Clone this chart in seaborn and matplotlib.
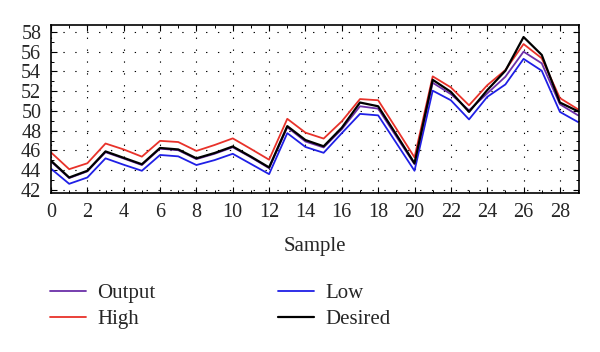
import numpy as np
import pandas as pd
import matplotlib
matplotlib.use("Agg")
import matplotlib.pyplot as plt
from matplotlib.ticker import MultipleLocator
import seaborn as sns

# -- data
sample = list(range(30))
desired = [44.96, 43.26, 43.94, 45.9, 45.25, 44.6, 46.25, 46.1, 45.2, 45.74,
           46.4, 45.37, 44.28, 48.46, 47.05, 46.42, 48.3, 50.85, 50.47, 47.6,
           44.7, 53.15, 51.93, 49.9, 52.1, 54.07, 57.48, 55.67, 50.85, 49.96]
output = [44.88, 43.2, 43.88, 45.82, 45.18, 44.52, 46.18, 46.02, 45.12, 45.66,
          46.32, 45.3, 44.2, 48.35, 46.9, 46.3, 48.15, 50.47, 50.23, 47.4,
          44.6, 52.85, 51.7, 50.06, 51.77, 53.46, 56.0, 54.82, 50.67, 49.55]
high = [45.8, 44.1, 44.7, 46.7, 46.1, 45.37, 46.97, 46.85, 45.95, 46.55,
        47.22, 46.15, 45.06, 49.2, 47.8, 47.2, 48.95, 51.2, 51.08, 48.2,
        45.3, 53.5, 52.38, 50.57, 52.6, 54.14, 56.77, 55.33, 51.3, 50.16]
low = [44.15, 42.62, 43.26, 45.2, 44.55, 43.94, 45.54, 45.4, 44.52, 45.02,
       45.66, 44.63, 43.6, 47.75, 46.35, 45.76, 47.75, 49.7, 49.55, 46.75,
       43.94, 52.05, 51.08, 49.14, 51.42, 52.68, 55.27, 54.07, 49.9, 48.87]

sns.set_style("ticks")
plt.rcParams["font.family"] = ["Liberation Serif", "DejaVu Serif"]

fig = plt.figure(figsize=(6, 3.52), dpi=100)
ax = fig.add_axes([0.085, 0.452, 0.88, 0.477])

sns.lineplot(x=sample, y=low, color="#1f1fe6", lw=1.3, label="Low", ax=ax)
sns.lineplot(x=sample, y=high, color="#e8322a", lw=1.3, label="High", ax=ax)
sns.lineplot(x=sample, y=output, color="#6b2fa8", lw=1.3, label="Output", ax=ax)
sns.lineplot(x=sample, y=desired, color="black", lw=1.6, label="Desired", ax=ax)

ax.set_xlim(0, 29.05)
ax.set_ylim(41.7, 58.7)
ax.xaxis.set_major_locator(MultipleLocator(2))
ax.xaxis.set_minor_locator(MultipleLocator(1))
ax.yaxis.set_major_locator(MultipleLocator(2))
ax.yaxis.set_minor_locator(MultipleLocator(1))
ax.tick_params(which="both", direction="in", top=True, right=True,
               color="black", labelsize=14.5, pad=7)
ax.tick_params(which="major", length=4, width=0.8)
ax.tick_params(which="minor", length=2.5, width=0.7)
for s in ax.spines.values():
    s.set_color("black")
    s.set_linewidth(1.2)

ax.grid(True, which="major", color="black", lw=0.8, linestyle=(0, (1.2, 9.5)))

ax.set_xlabel("Sample", fontsize=15, labelpad=11)
ax.set_ylabel("")

handles, labels = ax.get_legend_handles_labels()
order = ["Output", "High", "Low", "Desired"]
hmap = dict(zip(labels, handles))
ax.legend([hmap[k] for k in order], order, ncol=2, frameon=False,
          fontsize=15, loc="upper left", bbox_to_anchor=(0.077, 0.206),
          bbox_transform=fig.transFigure, handlelength=1.7,
          handletextpad=0.55, columnspacing=5.9, labelspacing=0.32,
          borderpad=0.2, borderaxespad=0)

plt.savefig("out.png", dpi=100)
